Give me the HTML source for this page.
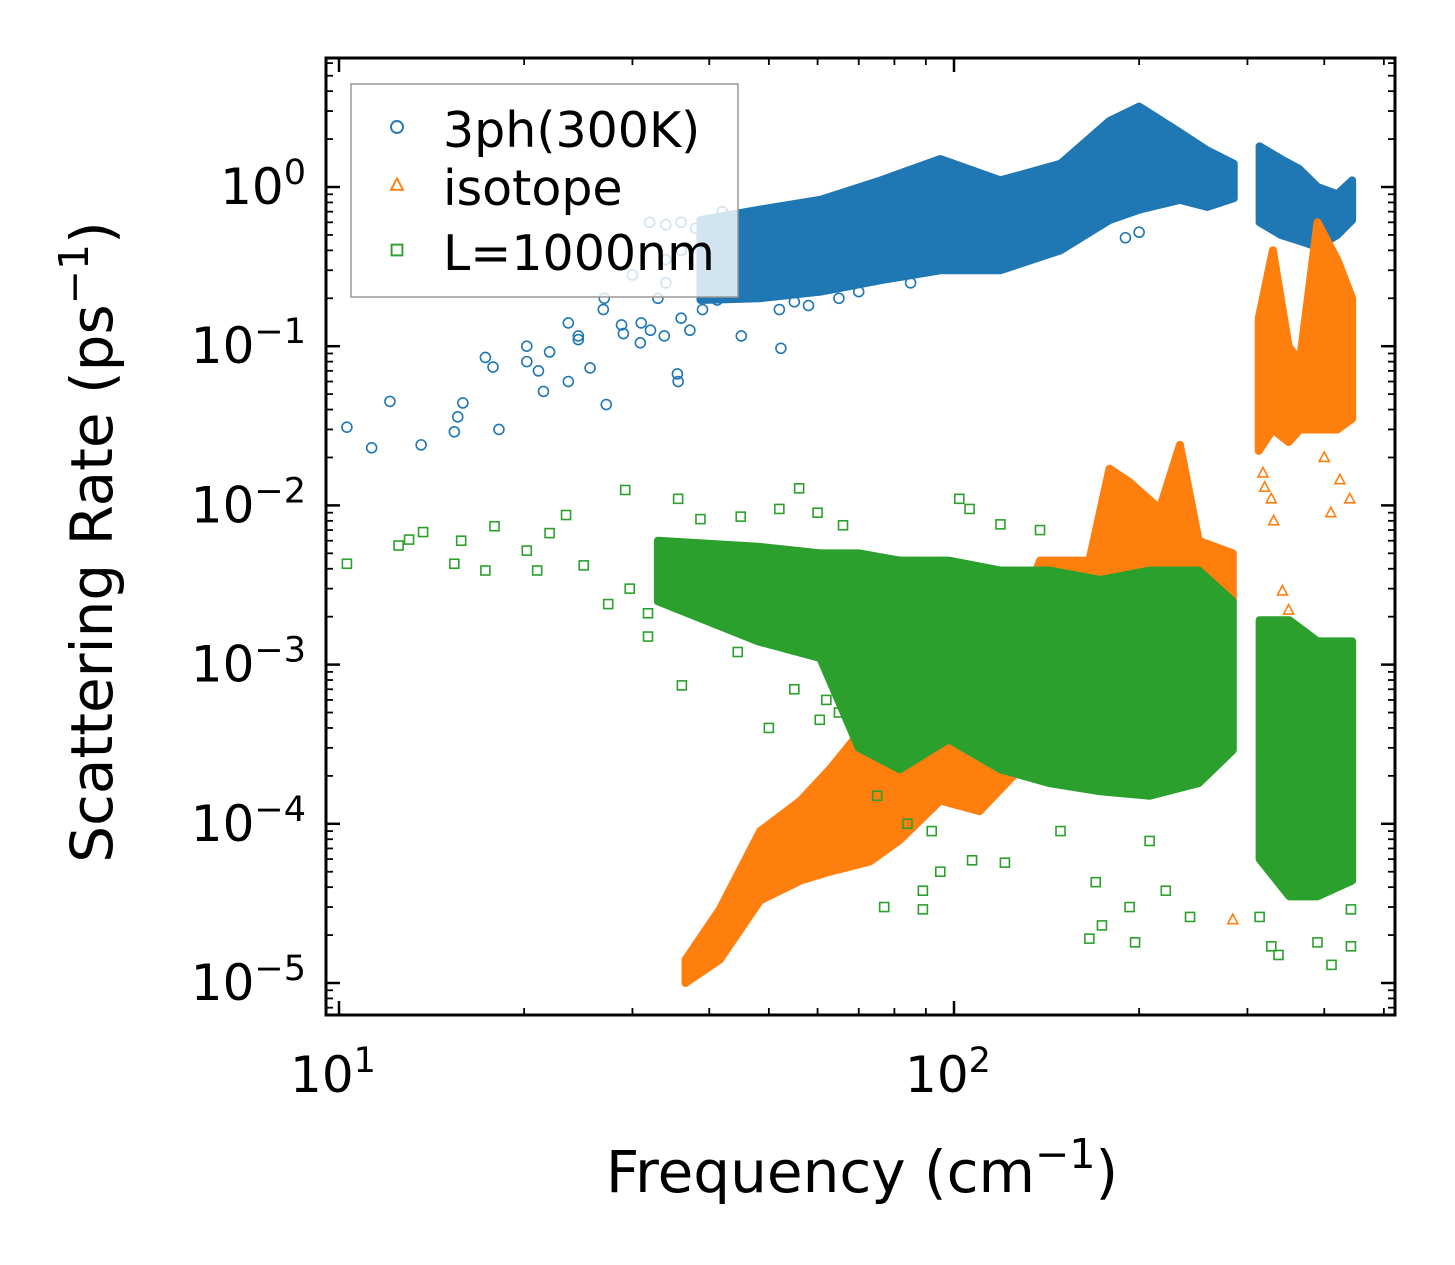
<!DOCTYPE html>
<html><head><meta charset="utf-8"><style>
body{margin:0;background:#fff}
svg{display:block;font-family:"DejaVu Sans","Liberation Sans",sans-serif}
</style></head><body>
<svg id="chart" width="1455" height="1265" viewBox="0 0 1455 1265" xmlns="http://www.w3.org/2000/svg">
<rect width="1455" height="1265" fill="#fff"/>
<g id="bands"></g><g id="marks"></g><g id="axes"></g>
</svg>
<script>
const xTicks=[10,100];
const yTicks=[0,-1,-2,-3,-4,-5];
const blueBand=[[38.7,0.62,0.195],[48.3,0.72,0.2],[60.6,0.83,0.22],[76,1.1,0.26],[95,1.5,0.3],[119,1.1,0.3],[149,1.4,0.4],[179,2.6,0.62],[200,3.2,0.72],[233,2.2,0.83],[258,1.7,0.75],[285,1.4,0.85]];
const blueBand2=[[314,1.8,0.6],[340,1.5,0.5],[364,1.3,0.46],[390,1.0,0.42],[420,0.9,0.5],[444,1.1,0.62]];
const bluePts=[[10.3,.031],[11.3,.023],[12.1,.045],[13.6,.024],[15.4,.029],[15.9,.044],[15.6,.036],[17.3,.085],[17.8,.074],[18.2,.030],[20.2,.080],[21.1,.070],[20.2,.10],[21.5,.052],[22.0,.092],[23.6,.060],[24.5,.11],[25.6,.073],[27.2,.043],[23.6,.14],[24.5,.116],[26.9,.17],[28.8,.136],[30.9,.105],[32.1,.126],[33.8,.116],[35.5,.067],[35.6,.06],[37.2,.126],[41.2,.195],[45.1,.116],[52.3,.097],[29,.12],[31,.14],[33,.2],[34,.25],[36,.15],[39,.17],[27,.2],[30,.28],[32,.6],[34,.58],[36,.6],[38,.55],[42,.7],[48,.45],[190,.48],[200,.52],[85,.25],[34,.35],[36,.4],[40,.3],[44,.25],[55,.19],[65,.2],[70,.22],[52,.17],[58,.18]];
const orangeBand=[[36.6,1.4e-5,1.0e-5],[41.6,2.9e-5,1.4e-5],[48.4,9e-5,3.3e-5],[56.3,1.4e-4,4.4e-5],[62.8,2.2e-4,5e-5],[73,4.5e-4,5.8e-5],[81.6,4.5e-4,7.9e-5],[95,7e-4,1.4e-4],[110,4.5e-4,1.2e-4],[138,4.5e-3,3e-4],[166,4.5e-3,2e-3],[179,1.7e-2,2e-3],[193,1.4e-2,2.5e-3],[216,9.5e-3,2.3e-3],[233,2.4e-2,2.3e-3],[250,6e-3,2e-3],[284,5e-3,2.5e-3]];
const orangeBand2=[[313,0.15,0.022],[330,0.4,0.03],[350,0.1,0.025],[365,0.08,0.03],[390,0.6,0.03],[420,0.35,0.03],[444,0.2,0.035]];
const orangePts=[[328,.011],[331,.008],[342,.0029],[350,.0022],[424,.0145],[440,.011],[284,2.5e-5],[318,.016],[400,.02],[320,.013],[410,.009]];
const greenBand=[[33,6e-3,2.5e-3],[48,5.5e-3,1.4e-3],[60.6,5e-3,1.1e-3],[70,5e-3,3e-4],[81.6,4.5e-3,2.2e-4],[98,4.5e-3,3.4e-4],[119,3.9e-3,2.2e-4],[143,3.9e-3,1.8e-4],[173,3.4e-3,1.6e-4],[208,3.9e-3,1.5e-4],[250,3.9e-3,1.8e-4],[284,2.5e-3,2.9e-4]];
const greenBand2=[[314,1.9e-3,6e-5],[351,1.9e-3,3.5e-5],[390,1.4e-3,3.5e-5],[444,1.4e-3,4.4e-5]];
const greenPts=[[10.3,.0043],[12.5,.0056],[13,.0061],[13.7,.0068],[15.4,.0043],[15.8,.006],[17.3,.0039],[17.9,.0074],[20.2,.0052],[21,.0039],[22,.0067],[23.4,.0087],[25,.0042],[27.4,.0024],[29.2,.0125],[29.7,.003],[31.8,.0021],[31.8,.0015],[36.1,7.4e-4],[35.6,.011],[38.7,.0082],[56,.0128],[50,4e-4],[44.5,1.2e-3],[55,7e-4],[60.5,4.5e-4],[70,3.4e-4],[77,3e-5],[89,2.9e-5],[89,3.8e-5],[95,5e-5],[107,5.9e-5],[121,5.7e-5],[170,4.3e-5],[166,1.9e-5],[174,2.3e-5],[193,3e-5],[197,1.8e-5],[221,3.8e-5],[242,2.6e-5],[314,2.6e-5],[328,1.7e-5],[337,1.5e-5],[390,1.8e-5],[411,1.3e-5],[442,1.7e-5],[442,2.9e-5],[102,.011],[106,.0095],[119,.0076],[138,.007],[102,3.4e-4],[149,9e-5],[208,7.8e-5],[60,.009],[66,.0075],[52,.0095],[45,.0085],[62,6e-4],[65,5e-4],[75,1.5e-4],[84,1e-4],[92,9e-5]];

const X0=326,X1=1395,Y0=58,Y1=1015;
const xs=f=>339+615*Math.log10(f/10);
const ys=v=>187-159.2*Math.log10(v);
const NS="http://www.w3.org/2000/svg";
function mk(tag,attrs,parent){const e=document.createElementNS(NS,tag);for(const k in attrs)e.setAttribute(k,attrs[k]);parent.appendChild(e);return e;}
const bandsG=document.getElementById('bands'),marksG=document.getElementById('marks'),axesG=document.getElementById('axes');
const C={blue:'#1f77b4',orange:'#ff7f0e',green:'#2ca02c'};
function band(arr,col,name){
  const top=arr.map(d=>xs(d[0])+','+ys(d[1]));
  const bot=arr.slice().reverse().map(d=>xs(d[0])+','+ys(d[2]));
  const p=mk('polygon',{points:top.concat(bot).join(' '),fill:col,stroke:col,'stroke-width':8,'stroke-linejoin':'round'},bandsG);
  
  
}
function marker(type,x,y,col,parent,s){
  s=s||1;let e;
  if(type==='o')e=mk('circle',{cx:x,cy:y,r:5*s,fill:'none',stroke:col,'stroke-width':1.6*s},parent);
  else if(type==='^')e=mk('polygon',{points:`${x},${y-5.5*s} ${x+5*s},${y+4*s} ${x-5*s},${y+4*s}`,fill:'none',stroke:col,'stroke-width':1.6*s},parent);
  else e=mk('rect',{x:x-4.5*s,y:y-4.5*s,width:9*s,height:9*s,fill:'none',stroke:col,'stroke-width':1.6*s},parent);
  return e;
}
function pts(arr,type,col,name){
  arr.forEach(d=>{const e=marker(type,xs(d[0]),ys(d[1]),col,marksG);
    
    });
}
band(blueBand,C.blue,'3ph-band');band(blueBand2,C.blue,'3ph-band-high');pts(bluePts,'o',C.blue,'3ph-point');
band(orangeBand,C.orange,'isotope-band');band(orangeBand2,C.orange,'isotope-band-high');pts(orangePts,'^',C.orange,'isotope-point');
band(greenBand,C.green,'boundary-band');band(greenBand2,C.green,'boundary-band-high');pts(greenPts,'s',C.green,'boundary-point');

const fr=mk('rect',{x:X0,y:Y0,width:X1-X0,height:Y1-Y0,fill:'none',stroke:'#000','stroke-width':3},axesG);


function line(x1,y1,x2,y2,w){mk('line',{x1,y1,x2,y2,stroke:'#000','stroke-width':w},axesG);}
for(let dec=1;dec<=100;dec*=10){for(let m=1;m<=9;m++){const f=dec*m;const x=xs(f);if(x<X0||x>X1)continue;const L=m===1?14:7;const w=m===1?2.5:1.8;line(x,Y1,x,Y1-L,w);line(x,Y0,x,Y0+L,w);}}
xTicks.forEach(f=>{const t=mk('text',{x:xs(f)-6,y:1092,'font-size':50,'text-anchor':'middle'},axesG);
 
 
 t.innerHTML='10<tspan dy="-20" font-size="35">'+Math.log10(f)+'</tspan>';});
for(let e=-6;e<=0;e++){for(let m=1;m<=9;m++){const v=m*Math.pow(10,e);const y=ys(v);if(y<Y0||y>Y1)continue;const L=m===1?14:7;const w=m===1?2.5:1.8;line(X0,y,X0+L,y,w);line(X1,y,X1-L,y,w);}}
yTicks.forEach(e=>{const t=mk('text',{x:306,y:ys(Math.pow(10,e))+17,'font-size':50,'text-anchor':'end'},axesG);
 
 
 t.innerHTML='10<tspan dy="-20" font-size="35">'+(e<0?'\u2212'+(-e):e)+'</tspan>';});
const xl=mk('text',{x:862,y:1192,'font-size':58,'text-anchor':'middle'},axesG);


xl.innerHTML='Frequency (cm<tspan dy="-24" font-size="41">\u22121</tspan><tspan dy="24">)</tspan>';
const yl=mk('text',{x:0,y:0,'font-size':58,'text-anchor':'middle',transform:'translate(112,542) rotate(-90)'},axesG);


yl.innerHTML='Scattering Rate (ps<tspan dy="-24" font-size="41">\u22121</tspan><tspan dy="24">)</tspan>';
const lg=mk('g',{},axesG);


mk('rect',{x:351,y:84,width:387,height:213,fill:'#fff','fill-opacity':0.8,stroke:'#999','stroke-width':1.5},lg);
const entries=[['3ph(300K)','o',C.blue,130],['isotope','^',C.orange,188],['L=1000nm','s',C.green,253]];
entries.forEach(en=>{const g=mk('g',{},lg);
 
 
 marker(en[1],397,en[3]-3,en[2],g,1.2);
 const t=mk('text',{x:443,y:en[3]+17,'font-size':49},g);t.textContent=en[0];});
</script>
</body></html>
